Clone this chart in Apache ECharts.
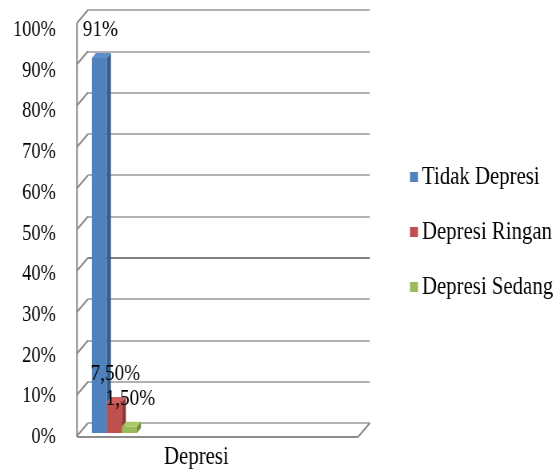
<!DOCTYPE html>
<html>
<head>
<meta charset="utf-8">
<script src="https://cdn.jsdelivr.net/npm/echarts@6/dist/echarts.min.js"></script>
<style>
html,body{margin:0;padding:0;background:#fff;overflow:hidden;}
#main{height:475px;transform:scaleX(0.8);transform-origin:0 0;}
</style>
</head>
<body>
<div id="main"></div>
<script>
var categories = ['Depresi'];
var seriesNames = ['Tidak Depresi', 'Depresi Ringan', 'Depresi Sedang'];
var seriesValues = [91, 7.5, 1.5];
var yTicks = [0, 10, 20, 30, 40, 50, 60, 70, 80, 90, 100];

// the picture is squeezed sideways, so the chart is drawn wider and scaled back
var S = 0.8;
var W = 557 / S;
function X(v) { return v / S; }
function R(v) { return (557 - v) / S; }

var frontColors = ['#4f81bd', '#c0504d', '#9bbb59'];
var sideColors = ['#385d8a', '#8c3836', '#71893f'];
var topColors = ['#5b8fcc', '#cc6360', '#a8c96a'];
var font = 'Liberation Serif';

document.getElementById('main').style.width = W + 'px';

function fmt(v) {
    if (Math.round(v) === v) return v + '%';
    return v.toFixed(2).replace('.', ',') + '%';
}

function renderBar(params, api) {
    var i = params.seriesIndex;
    var v = api.value(1);
    var c = api.coord([api.value(0), v]);
    var b = api.coord([api.value(0), 0]);
    var bw = X(15), dx = X(4), dy = 5;
    var x0 = c[0] - 1.5 * bw + i * bw;
    return {
        type: 'group',
        children: [
            {type: 'rect', shape: {x: x0, y: c[1], width: bw, height: b[1] - c[1]},
             style: {fill: frontColors[i]}},
            {type: 'polygon', shape: {points: [[x0 + bw, c[1]], [x0 + bw + dx, c[1] - dy], [x0 + bw + dx, b[1] - dy], [x0 + bw, b[1]]]},
             style: {fill: sideColors[i]}},
            {type: 'polygon', shape: {points: [[x0, c[1]], [x0 + dx, c[1] - dy], [x0 + bw + dx, c[1] - dy], [x0 + bw, c[1]]]},
             style: {fill: topColors[i]}},
            {type: 'text', style: {text: fmt(v), x: x0 + bw / 2 + X(1), y: c[1] - dy - 23,
             align: 'center', verticalAlign: 'middle', font: '24px "' + font + '"', fill: '#000'}}
        ]
    };
}

var series = [];
for (var i = 0; i < seriesNames.length; i++) {
    series.push({
        name: seriesNames[i],
        type: 'custom',
        xAxisIndex: 2,
        yAxisIndex: 2,
        itemStyle: {color: frontColors[i]},
        renderItem: renderBar,
        encode: {x: 0, y: 1},
        data: [[0, seriesValues[i]]],
        z: 5
    });
}

var gridColors = [];
for (var k = 0; k < yTicks.length; k++) {
    gridColors.push(yTicks[k] === 40 ? '#7f7f7f' : '#b2b2b2');
}

var option = {
    animation: false,
    legend: {
        orient: 'vertical',
        left: X(406),
        top: 159,
        itemWidth: X(8),
        itemHeight: 10,
        itemGap: 29,
        icon: 'rect',
        textStyle: {fontFamily: font, fontSize: 26, lineHeight: 26, color: '#000'},
        data: seriesNames
    },
    grid: [
        {left: X(88), right: R(370), top: 10, bottom: 52},
        {left: X(77), right: R(358), top: 30, bottom: 38},
        {left: X(77), right: R(152), top: 21, bottom: 42}
    ],
    xAxis: [
        {gridIndex: 0, type: 'category', data: categories, show: false},
        {gridIndex: 1, type: 'category', data: categories,
         axisLine: {show: false}, axisTick: {show: false}, axisLabel: {show: false},
         name: categories[0], nameLocation: 'middle', nameGap: 7,
         nameTextStyle: {fontFamily: font, fontSize: 26, color: '#000', padding: [0, X(42), 0, 0]}},
        {gridIndex: 2, type: 'category', data: categories, show: false}
    ],
    yAxis: [
        {gridIndex: 0, type: 'value', min: 0, max: 100, interval: 10,
         axisLine: {show: false}, axisTick: {show: false}, axisLabel: {show: false},
         splitLine: {show: true, lineStyle: {color: gridColors, width: 2}}},
        {gridIndex: 1, type: 'value', min: 0, max: 100, interval: 10,
         axisLine: {show: false}, axisTick: {show: false}, splitLine: {show: false},
         axisLabel: {formatter: '{value}%', fontFamily: font, fontSize: 23, color: '#000', margin: X(21)}},
        {gridIndex: 2, type: 'value', min: 0, max: 100, show: false, splitLine: {show: false}}
    ],
    series: series
};

var chart = echarts.init(document.getElementById('main'));
chart.setOption(option);

// side wall and floor edges, from the back wall's scale
var edge = {stroke: '#8c8c8c', lineWidth: 2};
var g = [];
for (var t = 0; t < yTicks.length; t++) {
    var yb = chart.convertToPixel({yAxisIndex: 0}, yTicks[t]);
    g.push({type: 'line', shape: {x1: X(77), y1: yb + 13, x2: X(88), y2: yb}, style: edge});
}
var yTop = chart.convertToPixel({yAxisIndex: 0}, 100);
var yZero = chart.convertToPixel({yAxisIndex: 0}, 0);
g.push({type: 'line', shape: {x1: X(77), y1: yTop + 13, x2: X(77), y2: yZero + 14}, style: edge});
g.push({type: 'line', shape: {x1: X(77), y1: yZero + 14, x2: X(358), y2: yZero + 14}, style: edge});
g.push({type: 'line', shape: {x1: X(358), y1: yZero + 14, x2: X(370), y2: yZero}, style: edge});
chart.setOption({graphic: g});
</script>
</body>
</html>
